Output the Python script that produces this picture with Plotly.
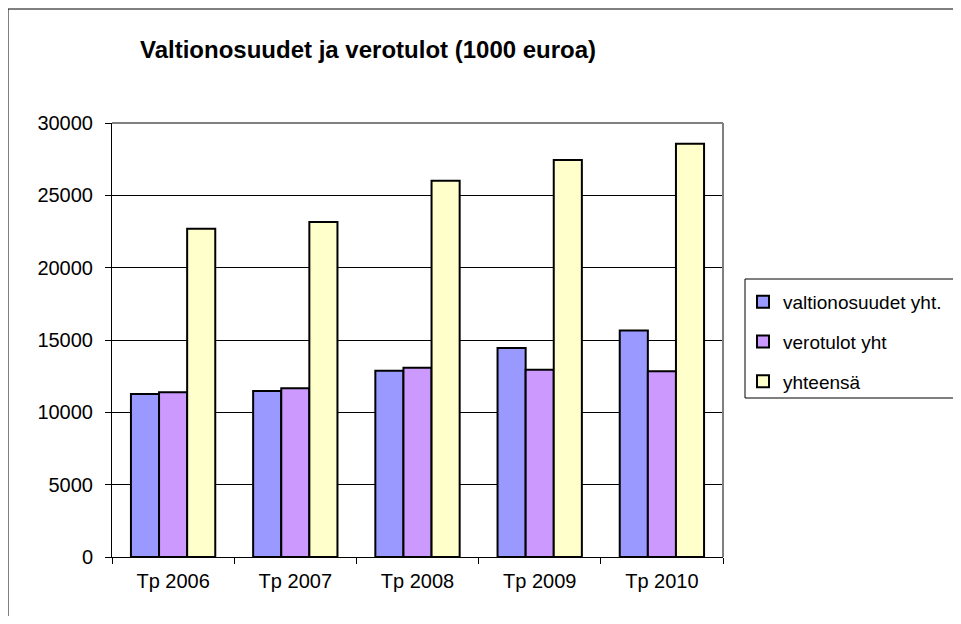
import plotly.graph_objects as go

categories = ["Tp 2006", "Tp 2007", "Tp 2008", "Tp 2009", "Tp 2010"]
valtionosuudet = [11270, 11470, 12880, 14450, 15650]
verotulot = [11380, 11660, 13090, 12950, 12840]
yhteensa = [22690, 23150, 26010, 27450, 28560]
series_names = ["valtionosuudet yht.", "verotulot yht", "yhteensä"]
colors = ["#9999FF", "#CC99FF", "#FFFFCC"]
y_ticks = [0, 5000, 10000, 15000, 20000, 25000, 30000]

# page body has an 8px margin on every side; size the figure so no scrollbar appears
OFF = 8
W, H = 961 - 2 * OFF, 624 - 2 * OFF
L, R, T, B = 112, 723, 123, 557   # target plot-area edges in window pixels

fig = go.Figure()
for i, (name, vals) in enumerate(zip(series_names, [valtionosuudet, verotulot, yhteensa])):
    fig.add_trace(go.Bar(
        x=categories, y=vals, name=name, legendgroup=name,
        marker=dict(color=colors[i], line=dict(color="black", width=2)),
    ))

def px_x(p):
    return (p - L) / (R - L)

def px_y(p):
    return (B - p) / (B - T)

font = "Liberation Sans, Arial, sans-serif"

fig.update_layout(
    width=W, height=H,
    margin=dict(l=L - OFF, r=W - (R - OFF), t=T - OFF, b=H - (B - OFF), autoexpand=False),
    paper_bgcolor="white", plot_bgcolor="white",
    barmode="group", bargap=0.31, bargroupgap=0,
    font=dict(family=font, color="black", size=20),
    title=dict(text="<b>Valtionosuudet ja verotulot (1000 euroa)</b>",
               x=(140 - OFF) / W, xanchor="left", xref="container",
               y=1 - (50 - OFF) / H, yanchor="middle", yref="container",
               font=dict(size=24, family=font, color="black")),
    showlegend=True,
    legend=dict(x=px_x(743), y=px_y(283), xanchor="left", yanchor="top",
                bgcolor="rgba(0,0,0,0)", borderwidth=0,
                font=dict(size=19, family=font, color="black"),
                tracegroupgap=12, traceorder="grouped", itemwidth=30),
    xaxis=dict(showline=True, linecolor="black", linewidth=1,
               ticks="outside", tickson="boundaries", ticklen=6, tickcolor="black",
               showgrid=False, tickfont=dict(size=20), ticklabelstandoff=6),
    yaxis=dict(range=[0, 30000], tickvals=y_ticks, ticktext=[str(v) for v in y_ticks],
               showline=True, linecolor="black", linewidth=1,
               ticks="outside", ticklen=6, tickcolor="black",
               showgrid=True, gridcolor="black", gridwidth=1,
               zeroline=False, tickfont=dict(size=20), ticklabelstandoff=8),
    shapes=[
        dict(type="line", xref="paper", yref="paper", x0=0, x1=1, y0=1, y1=1,
             line=dict(color="#808080", width=2), layer="above"),
        dict(type="line", xref="paper", yref="paper", x0=1, x1=1, y0=0, y1=1,
             line=dict(color="#808080", width=2), layer="above"),
        dict(type="rect", xref="paper", yref="paper",
             x0=px_x(8), x1=px_x(1100), y0=px_y(9), y1=px_y(800),
             line=dict(color="black", width=1), fillcolor="rgba(0,0,0,0)"),
        dict(type="rect", xref="paper", yref="paper",
             x0=px_x(745), x1=px_x(1100), y0=px_y(279), y1=px_y(398),
             line=dict(color="black", width=1), fillcolor="rgba(0,0,0,0)"),
    ],
)

fig.write_html("out.html")
